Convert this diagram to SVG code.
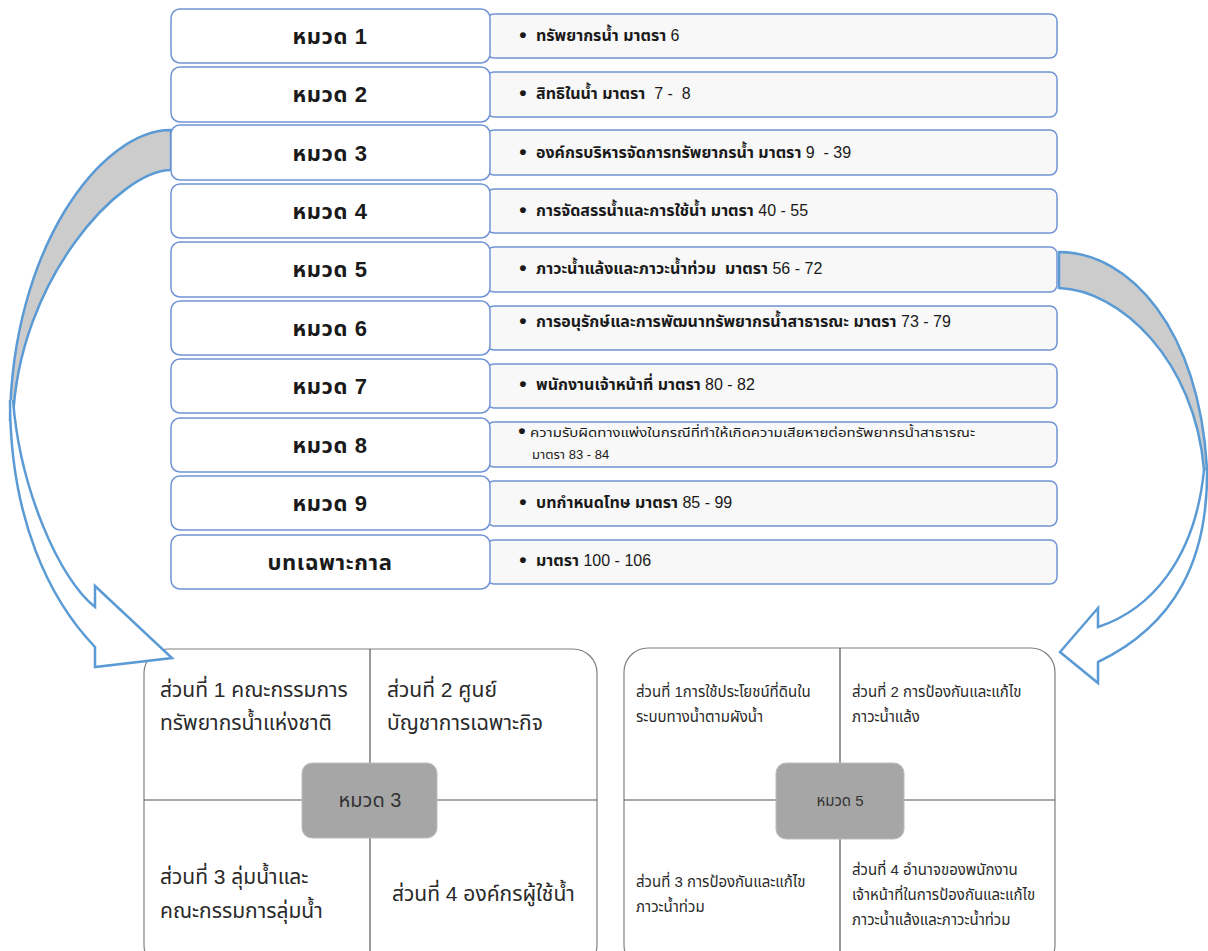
<svg xmlns="http://www.w3.org/2000/svg" width="1208" height="951" viewBox="0 0 1208 951">
<style>
.lb{fill:#ffffff;stroke:#7094d4;stroke-width:1.5}
.rb{fill:#f8f8f8;stroke:#7094d4;stroke-width:1.5}
.lt{font-family:"Liberation Sans","Noto Sans Thai","Noto Sans",sans-serif;font-size:22px;letter-spacing:0.6px;font-weight:bold;fill:#1a1a1a;text-anchor:middle}
.rt{font-family:"Liberation Sans","Noto Sans Thai","Noto Sans",sans-serif;font-size:16px;fill:#1a1a1a}
.rt .b{font-weight:bold}
.bul{font-family:"Liberation Sans",sans-serif;font-size:21px;font-weight:bold;fill:#1a1a1a;text-anchor:middle}
.small{font-family:"Liberation Sans","Noto Sans Thai","Noto Sans",sans-serif;font-size:13px;fill:#1a1a1a}
.quad{fill:#ffffff;stroke:#808080;stroke-width:1.2}
.div{stroke:#555555;stroke-width:1.2}
.cbox{fill:#a6a6a6;stroke:#bdbdbd;stroke-width:1}
.qt{font-family:"Liberation Sans","Noto Sans Thai","Noto Sans",sans-serif;font-size:21px;fill:#2a2a2a}
.qs{font-family:"Liberation Sans","Noto Sans Thai","Noto Sans",sans-serif;font-size:15px;fill:#2a2a2a}
.ct{font-family:"Liberation Sans","Noto Sans Thai","Noto Sans",sans-serif;fill:#333333;text-anchor:middle}
.band{fill:#cccccc;stroke:#5b9bd5;stroke-width:2.5;stroke-linejoin:miter}
.body{fill:#ffffff;stroke:#5b9bd5;stroke-width:2.5;stroke-linejoin:miter}
</style>

<g id="chapter3-detail">
<rect class="quad" x="144" y="649" width="453" height="320" rx="24"/>
<line class="div" x1="370" y1="649" x2="370" y2="951"/>
<line class="div" x1="144" y1="800" x2="597" y2="800"/>
<rect class="cbox" x="302" y="763" width="135" height="75" rx="10"/>
<text class="ct" x="370" y="807" font-size="20">หมวด 3</text>
<text class="qt" x="160" y="697">ส่วนที่ 1 คณะกรรมการ</text>
<text class="qt" x="160" y="730">ทรัพยากรน้ำแห่งชาติ</text>
<text class="qt" x="387" y="697">ส่วนที่ 2 ศูนย์</text>
<text class="qt" x="387" y="730">บัญชาการเฉพาะกิจ</text>
<text class="qt" x="160" y="884">ส่วนที่ 3 ลุ่มน้ำและ</text>
<text class="qt" x="160" y="918">คณะกรรมการลุ่มน้ำ</text>
<text class="qt" x="392" y="901">ส่วนที่ 4 องค์กรผู้ใช้น้ำ</text>
</g>

<g id="chapter5-detail">
<rect class="quad" x="624" y="648" width="431" height="321" rx="24"/>
<line class="div" x1="840" y1="648" x2="840" y2="951"/>
<line class="div" x1="624" y1="800" x2="1055" y2="800"/>
<rect class="cbox" x="776" y="763" width="128" height="76" rx="10"/>
<text class="ct" x="840" y="806" font-size="15">หมวด 5</text>
<text class="qs" x="636" y="697">ส่วนที่ 1การใช้ประโยชน์ที่ดินใน</text>
<text class="qs" x="636" y="722">ระบบทางน้ำตามผังน้ำ</text>
<text class="qs" x="852" y="697">ส่วนที่ 2 การป้องกันและแก้ไข</text>
<text class="qs" x="852" y="722">ภาวะน้ำแล้ง</text>
<text class="qs" x="636" y="887">ส่วนที่ 3 การป้องกันและแก้ไข</text>
<text class="qs" x="636" y="912">ภาวะน้ำท่วม</text>
<text class="qs" x="852" y="875">ส่วนที่ 4 อำนาจของพนักงาน</text>
<text class="qs" x="852" y="900">เจ้าหน้าที่ในการป้องกันและแก้ไข</text>
<text class="qs" x="852" y="925">ภาวะน้ำแล้งและภาวะน้ำท่วม</text>
</g>

<g id="connectors">
<g id="arrow-left">
<path class="band" d="M171,130 C100,130 12,250 10,420 L13,420 C18,280 120,170 171,170 Z"/>
<path class="body" d="M10,400 C10,520 50,600 95,647 L95,667 L172,658 L95,586 L95,607 C60,580 20,490 13,400"/>
</g>
<g id="arrow-right">
<path class="band" d="M1059,252 C1130,252 1200,330 1207,470 L1204,470 C1195,360 1120,290 1059,288 Z"/>
<path class="body" d="M1207,470 C1208,560 1175,625 1098,662 L1098,683 L1060,652 L1098,608 L1098,627 C1150,610 1195,560 1204,470"/>
</g>
</g>

<g id="details">
<g id="d1"><rect class="rb" x="487" y="14" width="570" height="44" rx="7"/><text class="bul" x="523" y="42">•</text><text class="rt" x="536" y="41"><tspan class="b">ทรัพยากรน้ำ มาตรา</tspan> 6</text></g>
<g id="d2"><rect class="rb" x="487" y="72" width="570" height="45" rx="7"/><text class="bul" x="523" y="100">•</text><text class="rt" x="536" y="99" xml:space="preserve"><tspan class="b">สิทธิในน้ำ มาตรา</tspan>  7 -  8</text></g>
<g id="d3"><rect class="rb" x="487" y="130" width="570" height="45" rx="7"/><text class="bul" x="523" y="159">•</text><text class="rt" x="536" y="158" xml:space="preserve"><tspan class="b">องค์กรบริหารจัดการทรัพยากรน้ำ มาตรา</tspan> 9  - 39</text></g>
<g id="d4"><rect class="rb" x="487" y="189" width="570" height="44" rx="7"/><text class="bul" x="523" y="217">•</text><text class="rt" x="536" y="216"><tspan class="b">การจัดสรรน้ำและการใช้น้ำ มาตรา</tspan> 40 - 55</text></g>
<g id="d5"><rect class="rb" x="487" y="247" width="570" height="45" rx="7"/><text class="bul" x="523" y="275">•</text><text class="rt" x="536" y="274" xml:space="preserve"><tspan class="b">ภาวะน้ำแล้งและภาวะน้ำท่วม  มาตรา</tspan> 56 - 72</text></g>
<g id="d6"><rect class="rb" x="487" y="306" width="570" height="44" rx="7"/><text class="bul" x="523" y="328">•</text><text class="rt" x="536" y="327"><tspan class="b">การอนุรักษ์และการพัฒนาทรัพยากรน้ำสาธารณะ มาตรา</tspan> 73 - 79</text></g>
<g id="d7"><rect class="rb" x="487" y="364" width="570" height="44" rx="7"/><text class="bul" x="523" y="391">•</text><text class="rt" x="536" y="390"><tspan class="b">พนักงานเจ้าหน้าที่ มาตรา</tspan> 80 - 82</text></g>
<g id="d8"><rect class="rb" x="487" y="422" width="570" height="45" rx="7"/><text class="bul" x="522" y="438" font-size="15">•</text><text class="small" x="530" y="437" textLength="445" lengthAdjust="spacingAndGlyphs">ความรับผิดทางแพ่งในกรณีที่ทำให้เกิดความเสียหายต่อทรัพยากรน้ำสาธารณะ</text><text class="small" x="532" y="459">มาตรา 83 - 84</text></g>
<g id="d9"><rect class="rb" x="487" y="481" width="570" height="45" rx="7"/><text class="bul" x="523" y="509">•</text><text class="rt" x="536" y="508"><tspan class="b">บทกำหนดโทษ มาตรา</tspan> 85 - 99</text></g>
<g id="d10"><rect class="rb" x="487" y="540" width="570" height="44" rx="7"/><text class="bul" x="523" y="567">•</text><text class="rt" x="536" y="566"><tspan class="b">มาตรา</tspan> 100 - 106</text></g>
</g>

<g id="chapters">
<g id="c1"><rect class="lb" x="171" y="9" width="319" height="54" rx="9"/><text class="lt" x="330" y="44">หมวด 1</text></g>
<g id="c2"><rect class="lb" x="171" y="67" width="319" height="55" rx="9"/><text class="lt" x="330" y="102">หมวด 2</text></g>
<g id="c3"><rect class="lb" x="171" y="125" width="319" height="55" rx="9"/><text class="lt" x="330" y="161">หมวด 3</text></g>
<g id="c4"><rect class="lb" x="171" y="184" width="319" height="54" rx="9"/><text class="lt" x="330" y="219">หมวด 4</text></g>
<g id="c5"><rect class="lb" x="171" y="242" width="319" height="55" rx="9"/><text class="lt" x="330" y="277">หมวด 5</text></g>
<g id="c6"><rect class="lb" x="171" y="301" width="319" height="54" rx="9"/><text class="lt" x="330" y="336">หมวด 6</text></g>
<g id="c7"><rect class="lb" x="171" y="359" width="319" height="54" rx="9"/><text class="lt" x="330" y="394">หมวด 7</text></g>
<g id="c8"><rect class="lb" x="171" y="418" width="319" height="54" rx="9"/><text class="lt" x="330" y="453">หมวด 8</text></g>
<g id="c9"><rect class="lb" x="171" y="476" width="319" height="54" rx="9"/><text class="lt" x="330" y="511">หมวด 9</text></g>
<g id="c10"><rect class="lb" x="171" y="535" width="319" height="54" rx="9"/><text class="lt" x="330" y="570">บทเฉพาะกาล</text></g>
</g>
</svg>
